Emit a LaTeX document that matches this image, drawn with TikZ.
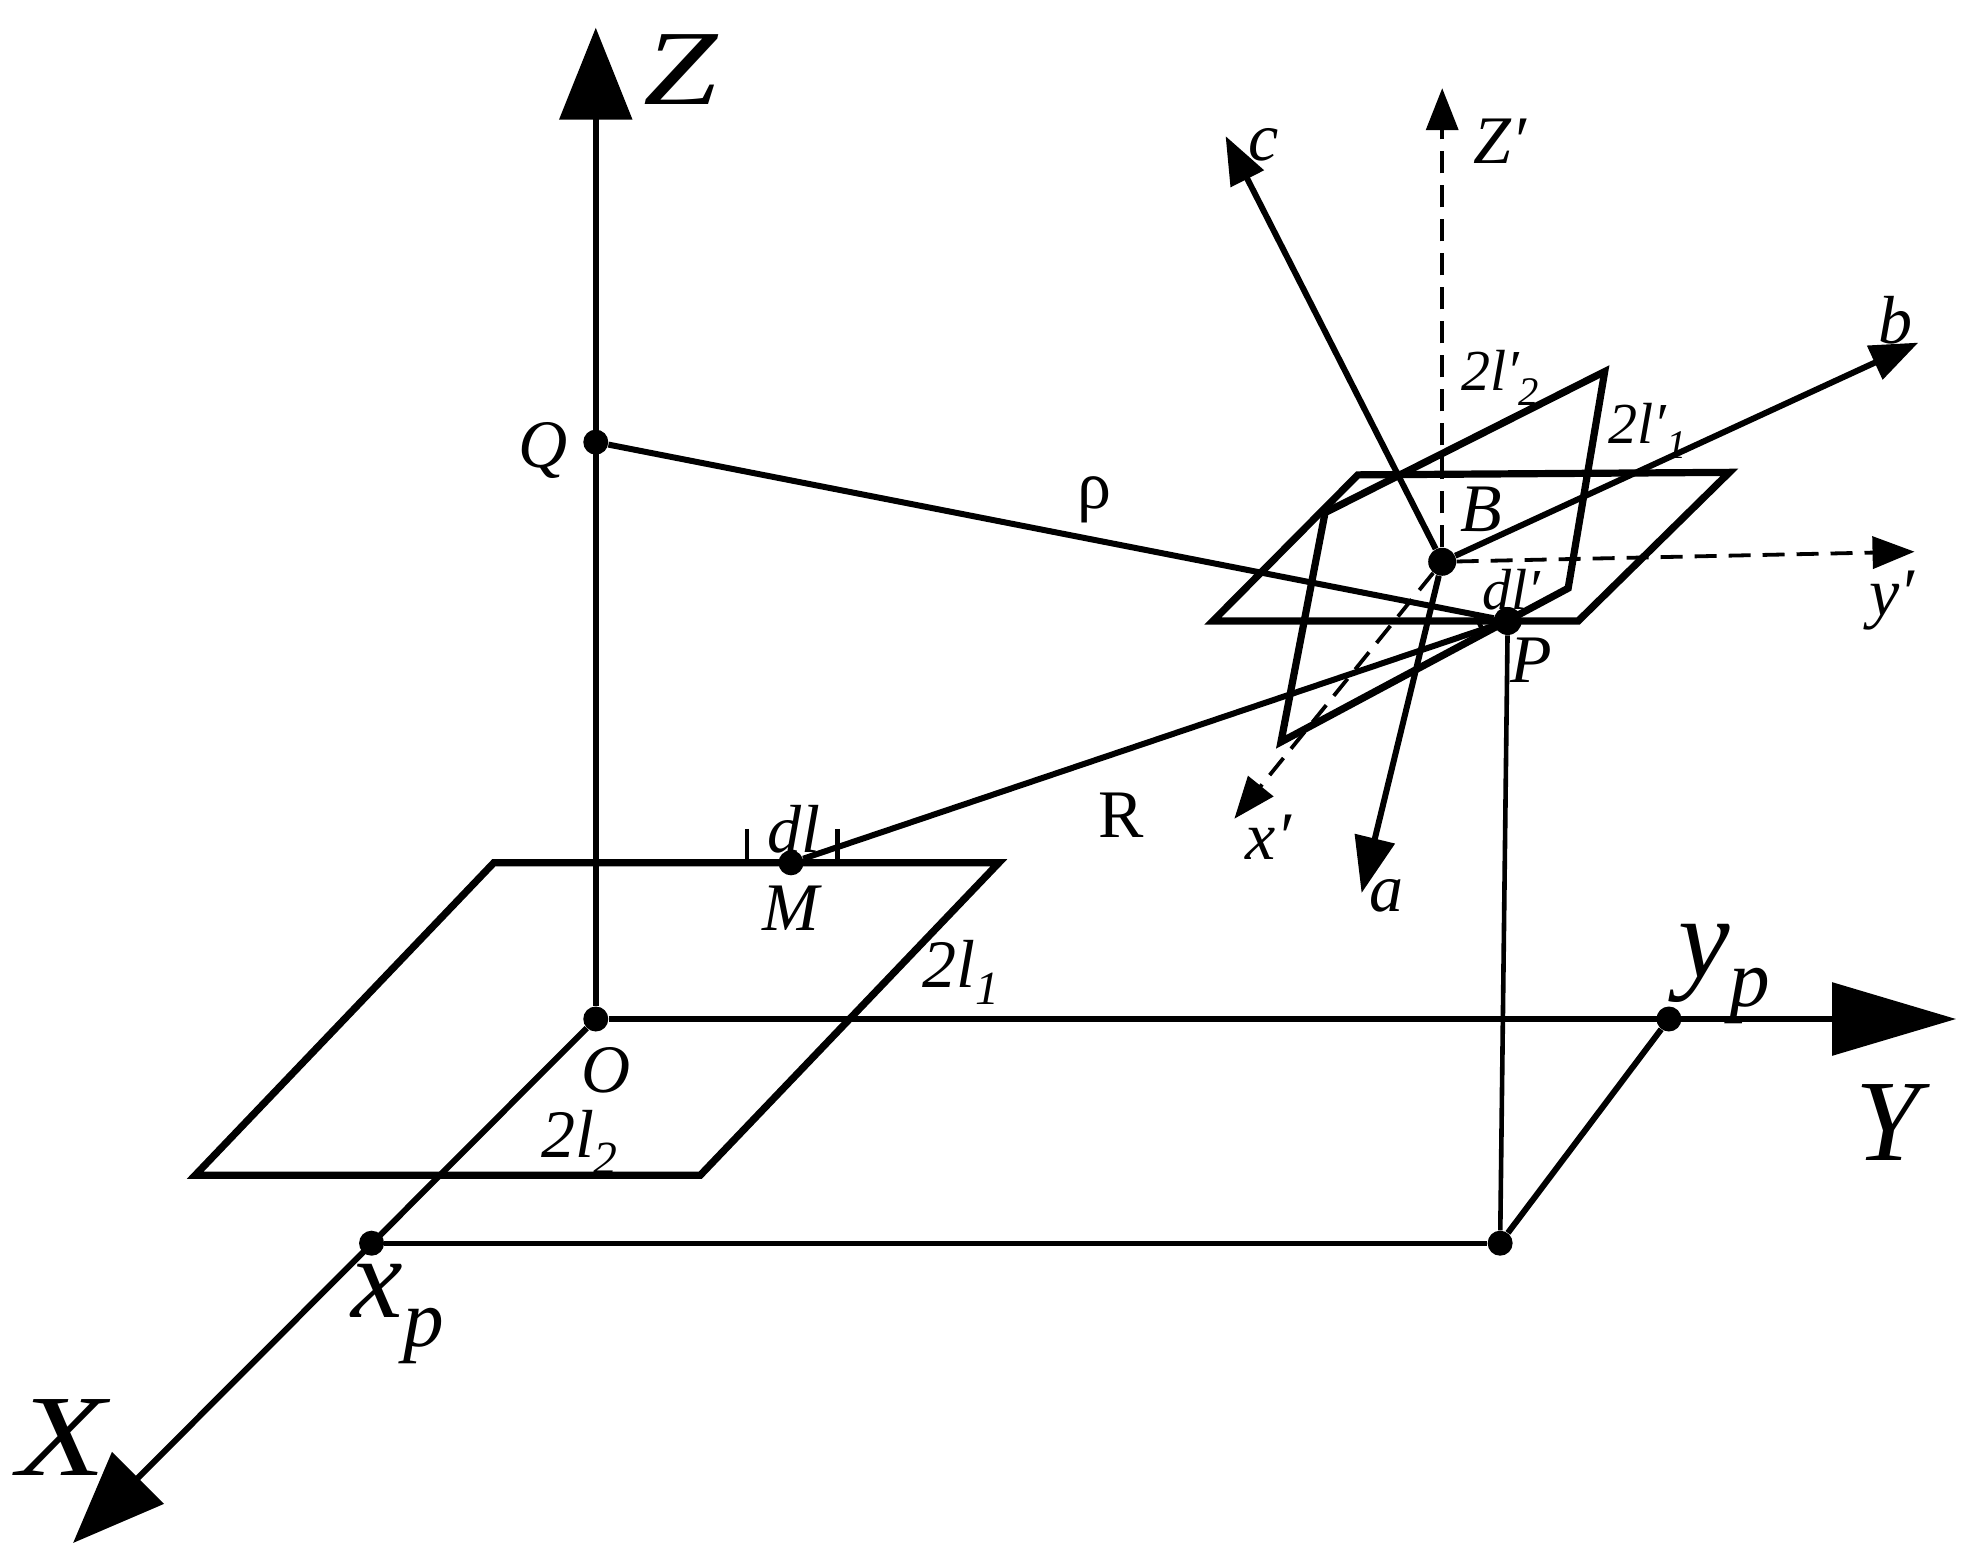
\documentclass[tikz,border=0pt]{standalone}
\usepackage{graphicx}
\usepackage{fontspec}
\setmainfont{Liberation Serif}
\usetikzlibrary{arrows.meta}
\newcommand\lsub[1]{\raisebox{-.25em}{\scalebox{.7}{#1}}}
\newcommand\fsz[1]{\fontsize{#1}{#1}\selectfont}
\tikzset{
  dotnode/.style={circle,fill=black,inner sep=0pt,minimum size=14pt},
  smalldot/.style={circle,fill=black,inner sep=0pt,minimum size=12.5pt},
  axisline/.style={line width=3pt},
  thinline/.style={line width=2.3pt},
  plate/.style={line width=3.6pt,line join=miter},
  dashline/.style={line width=1.9pt,dash pattern=on 11pt off 6pt},
  bigarrow/.style={-{Triangle[length=46pt,width=36pt]}},
  medarrow/.style={-{Triangle[length=21pt,width=16pt]}},
  biglabel/.style={font=\fsz{58}\itshape,inner sep=0pt},
  midlabel/.style={font=\fsz{34}\itshape,inner sep=0pt},
  smlabel/.style={font=\fsz{29}\itshape,inner sep=0pt},
  romanlabel/.style={font=\fsz{34},inner sep=0pt},
}
\begin{document}
\begin{tikzpicture}[x=0.6298pt,y=-0.6298pt]
\useasboundingbox (0,0) rectangle (1568,1243.4);
% points
\node[smalldot] (O) at (473,809) {};
\node[smalldot] (Q) at (473,351) {};
\node[smalldot] (xp) at (295,987) {};
\node[smalldot] (yp) at (1325,809) {};
\node[smalldot] (F) at (1191,987) {};
\node[smalldot] (M) at (628,685) {};
\node[dotnode] (P) at (1197,493) {};
\node[dotnode] (B) at (1145,446) {};
\coordinate (Ztip) at (473,22);
\coordinate (Ytip) at (1553,809);
\coordinate (Xtip) at (58,1225);
\coordinate (Zp) at (1145,70);
\coordinate (yptip) at (1520,438);
\coordinate (xptip) at (980,650);
\coordinate (ctip) at (973,108);
\coordinate (btip) at (1523,272);
\coordinate (atip) at (1081,709);
% axes
\draw[axisline,bigarrow] (O) -- (Ztip);
\draw[axisline,-{Triangle[length=62pt,width=36pt]}] (O) -- (Ytip);
\draw[axisline,bigarrow] (O) -- (Xtip);
% lower plate
\coordinate (L1) at (392,685);
\coordinate (L2) at (793,685);
\coordinate (L3) at (556,933);
\coordinate (L4) at (155,933);
\draw[plate] (L1) -- (L2) -- (L3) -- (L4) -- cycle;
% dl ticks
\coordinate (T1a) at (593,658); \coordinate (T1b) at (593,685);
\coordinate (T2a) at (665,658); \coordinate (T2b) at (665,685);
\draw[thinline] (T1a) -- (T1b);
\draw[thinline] (T2a) -- (T2b);
% projection lines
\draw[thinline] (P) -- (F);
\draw[thinline] (xp) -- (F);
\draw[axisline] (F) -- (yp);
% rho and R
\draw[axisline] (Q) -- (P);
\draw[axisline] (M) -- (P);
% upper plate
\coordinate (U1) at (1078,377);
\coordinate (U2) at (1373,375);
\coordinate (U3) at (1253,493);
\coordinate (U4) at (963,493);
\draw[plate] (U1) -- (U2) -- (U3) -- (U4) -- cycle;
% tilted plate
\coordinate (V1) at (1274,295);
\coordinate (V2) at (1245,467);
\coordinate (V3) at (1017,589);
\coordinate (V4) at (1052,407);
\draw[plate] (V1) -- (V2) -- (V3) -- (V4) -- cycle;
% dashed axes
\draw[dashline,medarrow] (B) -- (Zp);
\draw[dashline,medarrow] (B) -- (yptip);
\draw[dashline,medarrow] (B) -- (xptip);
% solid local axes
\draw[axisline,-{Triangle[length=24pt,width=18pt]}] (B) -- (ctip);
\draw[axisline,-{Triangle[length=24pt,width=18pt]}] (B) -- (btip);
\draw[axisline,-{Triangle[length=28pt,width=20pt]}] (B) -- (atip);
% small angle mark near P
\coordinate (A1) at (1171,488); \coordinate (A2) at (1177,500);
\draw[thinline] (A1) -- (A2);
% labels
\node[biglabel] (lZ) at (540,55) {\scalebox{1.15}[.92]{Z}};
\node[biglabel] (lX) at (49,1141) {\scalebox{1.25}[1]{X}};
\node[biglabel] (lY) at (1499,891) {Y};
\node[biglabel] (lxp) at (316,1043) {x\lsub{p}};
\node[biglabel] (lyp) at (1369,773) {y\lsub{p}};
\node[midlabel] (lQ) at (431,358) {Q};
\node[midlabel] (lO) at (481,850) {O};
\node[midlabel] (lM) at (628,721) {M};
\node[midlabel] (ldl) at (630,658) {dl};
\node[midlabel] (l2l1) at (763,772) {2l\lsub{1}};
\node[midlabel] (l2l2) at (460,907) {2l\lsub{2}};
\node[romanlabel] (lR) at (890,647) {R};
\node[romanlabel] (lrho) at (869,397) {ρ};
\node[midlabel] (lB) at (1176,404) {B};
\node[midlabel] (lP) at (1216,524) {P};
\node[smlabel] (ldlp) at (1200,468) {dl′};
\node[smlabel] (l2lp2) at (1191,300) {2l′\lsub{2}};
\node[smlabel] (l2lp1) at (1308,342) {2l′\lsub{1}};
\node[midlabel] (lc) at (1003,115) {c};
\node[midlabel] (lZp) at (1191,112) {Z′};
\node[midlabel] (lb) at (1505,254) {b};
\node[midlabel] (lyprime) at (1502,477) {y′};
\node[midlabel] (lxprime) at (1007,665) {x′};
\node[midlabel] (la) at (1101,711) {a};
\end{tikzpicture}
\end{document}
